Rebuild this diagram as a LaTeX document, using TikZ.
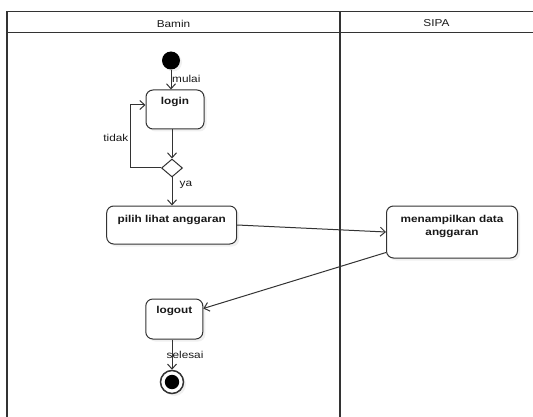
\documentclass[tikz,border=0pt]{standalone}
\usepackage{fontspec}
\setmainfont{Liberation Sans}[FakeStretch=1.18]
\usetikzlibrary{arrows.meta,shapes.geometric,shadows,calc}
\definecolor{linec}{HTML}{333333}
\definecolor{framec}{HTML}{333333}
\tikzset{
  action/.style={draw=linec, line width=1pt, rounded corners=7pt, fill=white,
    inner sep=0pt, drop shadow={shadow xshift=2.5pt, shadow yshift=-2.5pt, opacity=0.12}},
  btext/.style={font=\fontsize{10}{12.5}\selectfont\bfseries, inner sep=0pt, align=center, text=black!90},
  ltext/.style={font=\fontsize{10}{12}\selectfont, inner sep=0pt, text=black!90},
  flow/.style={draw=linec, line width=1pt, -{Straight Barb[length=5pt,width=9pt]}},
  lane/.style={draw=framec, line width=1.5pt},
}
\begin{document}
\begin{tikzpicture}[x=1pt,y=-1pt]
\useasboundingbox (0,0) rectangle (533,417);
\begin{scope}
\clip (0,0) rectangle (533,417);
\draw[lane] (540,11.7) -- (7,11.7) -- (7,425);
\draw[lane] (7,32.7) -- (540,32.7);
\draw[lane] (340,11.7) -- (340,425);
\end{scope}
\node[ltext] (hb) at (173.5,23.5) {Bamin};
\node[ltext] (hs) at (436.5,23.5) {SIPA};

% nodes
\node[circle, fill=black, minimum size=18pt, inner sep=0pt,
  drop shadow={shadow xshift=2pt, shadow yshift=-2pt, opacity=0.12}] (start) at (171,60.5) {};
\node[action, minimum width=58pt, minimum height=39pt] (login) at (175,109.5) {};
\node[btext, anchor=north] (logint) at ($(login.north)+(0,8)$) {login};
\node[diamond, draw=linec, line width=1pt, fill=white, minimum width=21pt, minimum height=18pt, inner sep=0pt] (dia) at (172,168) {};
\node[action, minimum width=130pt, minimum height=38pt] (pilih) at (171.7,225) {};
\node[btext, anchor=north] (piliht) at ($(pilih.north)+(0,9.5)$) {pilih lihat anggaran};
\node[action, minimum width=131pt, minimum height=52pt] (menam) at (452,232) {};
\node[btext, anchor=north] (menamt) at ($(menam.north)+(0,10)$) {menampilkan data\\anggaran};
\node[action, minimum width=57pt, minimum height=40pt] (logout) at (174.3,319) {};
\node[btext, anchor=north] (logoutt) at ($(logout.north)+(0,8)$) {logout};
\node[circle, draw=linec, line width=1.5pt, fill=white, minimum size=23pt, inner sep=0pt,
  drop shadow={shadow xshift=2.5pt, shadow yshift=-2.5pt, opacity=0.12}] (end) at (172,382) {};
\fill[black] (end) circle (7.2);

\coordinate (lp) at (130,105);

% connectors
\draw[flow] (start) -- (start |- login.north);
\draw[flow] (dia |- login.south) -- (dia.north);
\draw[flow] (dia.west) -| (lp) -- (login.west |- lp);
\draw[flow] (dia.south) -- (dia |- pilih.north);
\draw[flow] (pilih.east) -- (menam.west);
\draw[flow] ($(menam.south west)+(0,-6)$) -- ($(logout.north east)+(0,10)$);
\draw[flow] (end |- logout.south) -- (end.north);

% labels
\node[ltext, anchor=west] (lmulai) at (172,79) {mulai};
\node[ltext, anchor=east] (ltidak) at (128.5,137.5) {tidak};
\node[ltext, anchor=base west] (lya) at (179.5,186) {ya};
\node[ltext, anchor=west] (lsel) at (166.5,354.5) {selesai};
\end{tikzpicture}
\end{document}
